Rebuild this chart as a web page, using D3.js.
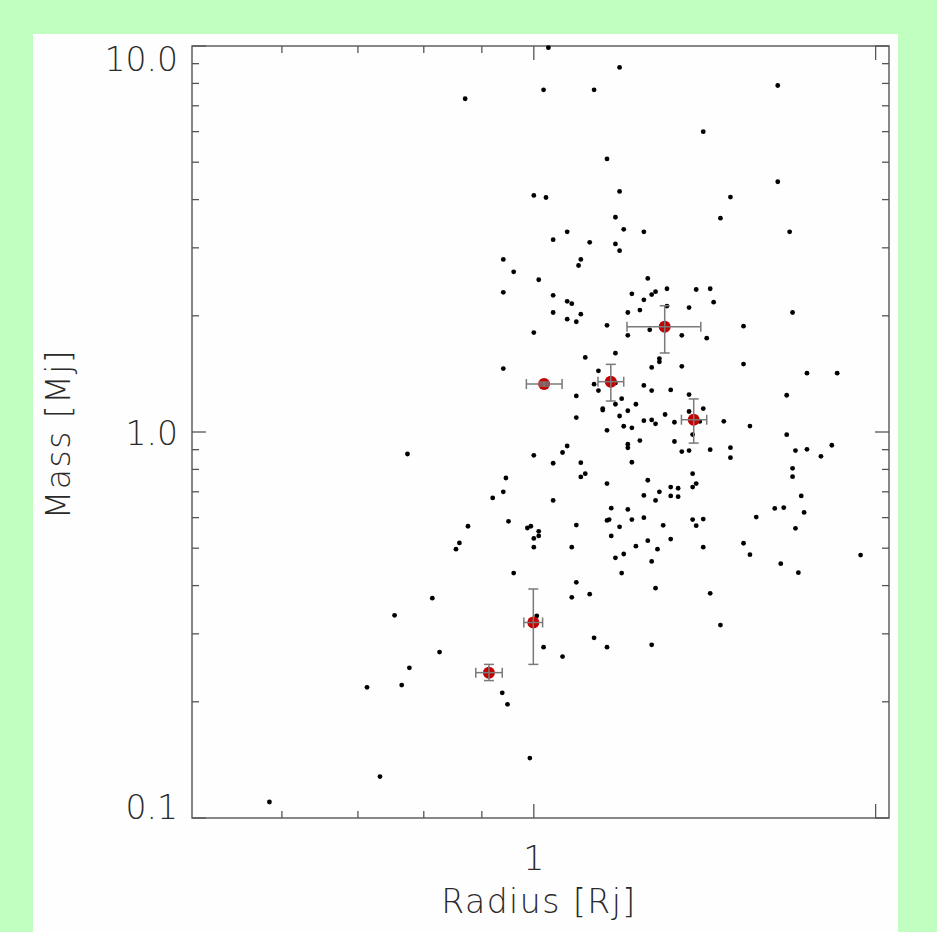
<!DOCTYPE html>
<html>
<head>
<meta charset="utf-8">
<script src="https://cdn.jsdelivr.net/npm/d3@7"></script>
<style>
  html, body { margin: 0; padding: 0; background: #c0ffc0; }
  svg { display: block; }
  text { font-family: "DejaVu Sans", sans-serif; font-weight: 200; fill: #2a2a2a; }
</style>
</head>
<body>
<svg id="chart" width="937" height="932"></svg>
<script>
// known planets (black dots)
const radiusRj = [1.03,1.19,1.02,1.13,0.87,1.41,1.16,1.19,1.00,1.025,1.18,1.20,1.25,1.07,1.04,1.12,1.18,1.19,0.94,1.10,
  1.095,0.96,1.01,1.26,0.94,1.04,1.07,1.08,1.22,1.25,1.27,1.28,1.31,1.39,1.43,1.44,1.37,1.31,1.24,1.21,
  1.04,1.10,1.07,1.09,1.16,1.00,1.21,1.265,1.35,1.42,1.46,1.18,1.11,1.29,1.29,1.27,1.35,0.94,1.14,1.13,
  1.14,1.18,1.25,1.27,1.32,1.37,1.09,1.195,1.18,1.23,1.15,1.15,1.21,1.305,1.41,1.19,1.09,1.25,1.27,1.28,
  1.33,1.37,1.40,1.20,1.22,1.16,1.38,1.21,1.21,1.24,1.33,1.35,1.37,1.43,1.07,1.06,1.00,1.04,1.10,1.22,
  1.11,1.10,0.945,1.16,1.26,1.38,1.39,1.38,0.94,0.92,1.04,1.25,1.29,1.32,1.34,1.32,1.34,1.28,1.17,1.21,
  0.875,0.95,0.987,0.994,1.01,1.01,1.00,1.00,1.09,1.16,1.165,1.19,1.22,1.25,1.30,1.38,1.41,1.39,1.17,1.26,
  1.32,1.285,1.23,1.08,1.41,0.86,0.854,1.20,1.18,1.27,0.96,1.195,1.09,1.28,1.12,1.08,1.43,0.814,0.754,1.006,
  0.826,0.777,0.765,0.938,0.948,0.992,1.02,1.06,1.13,1.16,1.27,0.732,1.69,1.53,1.53,1.74,1.85,1.67,1.47,1.55,
  1.67,1.49,1.49,1.70,1.74,1.79,1.83,1.69,1.69,1.72,1.63,1.66,1.73,1.57,1.70,1.53,1.55,1.65,1.71,1.94,
  1.64,1.64,1.49,1.68,0.774,0.713,0.585,1.46]
const massMj = [9.9,8.8,7.7,7.7,7.3,6.0,5.1,4.2,4.1,4.05,3.6,3.35,3.3,3.3,3.15,3.1,3.07,2.95,2.8,2.8,
  2.7,2.6,2.48,2.5,2.3,2.26,2.18,2.15,2.28,2.2,2.27,2.31,2.35,2.34,2.35,2.17,2.1,2.12,2.07,2.04,
  2.04,2.02,1.96,1.93,1.89,1.81,1.78,1.84,1.78,1.75,3.58,1.6,1.56,1.55,1.52,1.47,1.48,1.46,1.44,1.33,
  1.28,1.34,1.32,1.28,1.285,1.25,1.24,1.22,1.18,1.18,1.15,1.14,1.135,1.11,1.15,1.10,1.09,1.07,1.075,1.05,
  1.06,1.13,1.065,1.035,1.025,1.01,0.985,0.93,0.91,0.95,0.945,0.89,0.895,0.90,0.92,0.885,0.87,0.83,0.833,0.835,
  0.78,0.765,0.76,0.735,0.75,0.78,0.735,0.72,0.70,0.675,0.665,0.685,0.70,0.72,0.715,0.683,0.68,0.665,0.635,0.63,
  0.57,0.587,0.564,0.57,0.553,0.538,0.53,0.503,0.574,0.59,0.593,0.568,0.593,0.60,0.573,0.593,0.595,0.572,0.538,0.523,
  0.528,0.497,0.506,0.503,0.503,0.516,0.497,0.483,0.472,0.462,0.431,0.431,0.408,0.394,0.38,0.373,0.382,0.371,0.335,0.334,
  0.269,0.245,0.221,0.211,0.197,0.143,0.277,0.262,0.293,0.277,0.281,0.128,2.04,1.88,1.50,1.42,1.42,1.245,1.066,1.036,
  0.984,0.911,0.858,0.895,0.902,0.865,0.924,0.805,0.766,0.683,0.634,0.637,0.619,0.602,0.563,0.515,0.481,0.456,0.432,0.48,
  7.9,4.45,4.06,3.3,0.877,0.218,0.11,0.316]

// highlighted planets with error bars (red)
const hiR    = [1.304, 1.021, 1.169, 1.383, 0.999, 0.913]
const hiM    = [1.873, 1.331, 1.350, 1.076, 0.321, 0.238]
const hiRLo  = [1.208, 0.985, 1.139, 1.349, 0.980, 0.889]
const hiRHi  = [1.403, 1.059, 1.200, 1.420, 1.018, 0.938]
const hiMLo  = [1.602, 1.315, 1.203, 0.936, 0.250, 0.227]
const hiMHi  = [2.124, 1.347, 1.497, 1.218, 0.392, 0.250]

const yMajor = [0.1, 1, 10]
const yMinor = [0.2,0.3,0.4,0.5,0.6,0.7,0.8,0.9,2,3,4,5,6,7,8,9]
const yLabels = ['0.1', '1.0', '10.0']
const xMajor = [1, 2]
const xMinor = [0.6, 0.7, 0.8, 0.9]
const xLabels = ['1', '']

const svg = d3.select('#chart')
const pLeft = 192, pRight = 889, pTop = 46, pBottom = 818

// white panel
svg.append('rect')
  .attr('x', 33).attr('y', 34).attr('width', 865).attr('height', 898)
  .attr('fill', '#fefefe')

const x = d3.scaleLog().domain([0.5, 2.055]).range([pLeft, pRight])
const y = d3.scaleLog().domain([0.1, 10]).range([pBottom, pTop])

const axisColor = '#555'
const g = svg.append('g')

// ticks, inward on all four sides
function vTicks(vals, len) {
  vals.forEach(v => {
    g.append('line').attr('x1', x(v)).attr('x2', x(v)).attr('y1', pBottom).attr('y2', pBottom - len)
      .attr('stroke', axisColor).attr('stroke-width', 1.3)
    g.append('line').attr('x1', x(v)).attr('x2', x(v)).attr('y1', pTop).attr('y2', pTop + len)
      .attr('stroke', axisColor).attr('stroke-width', 1.3)
  })
}
function hTicks(vals, len) {
  vals.forEach(v => {
    g.append('line').attr('y1', y(v)).attr('y2', y(v)).attr('x1', pLeft).attr('x2', pLeft + len)
      .attr('stroke', axisColor).attr('stroke-width', 1.3)
    g.append('line').attr('y1', y(v)).attr('y2', y(v)).attr('x1', pRight).attr('x2', pRight - len)
      .attr('stroke', axisColor).attr('stroke-width', 1.3)
  })
}
vTicks(xMajor, 14)
vTicks(xMinor, 7)
hTicks(yMajor, 14)
hTicks(yMinor, 7)

// frame
g.append('rect')
  .attr('x', pLeft).attr('y', pTop).attr('width', pRight - pLeft).attr('height', pBottom - pTop)
  .attr('fill', 'none').attr('stroke', axisColor).attr('stroke-width', 1.4)

// tick labels
svg.selectAll('.ylab').data(yMajor).enter().append('text')
  .attr('class', 'ylab')
  .attr('x', 178)
  .attr('y', d => Math.min(Math.max(y(d) + 13, pTop + 25), pBottom + 1))
  .attr('text-anchor', 'end')
  .attr('font-size', 33)
  .text((d, i) => yLabels[i])

svg.selectAll('.xlab').data(xMajor).enter().append('text')
  .attr('class', 'xlab')
  .attr('x', d => x(d))
  .attr('y', 870)
  .attr('text-anchor', 'middle')
  .attr('font-size', 33)
  .text((d, i) => xLabels[i])

// axis titles
svg.append('text')
  .attr('x', 539).attr('y', 913)
  .attr('text-anchor', 'middle')
  .attr('font-size', 33)
  .attr('letter-spacing', 1.5)
  .text('Radius [Rj]')

svg.append('text')
  .attr('transform', 'translate(70,434) rotate(-90)')
  .attr('text-anchor', 'middle')
  .attr('font-size', 33)
  .attr('letter-spacing', 1.5)
  .text('Mass [Mj]')

// black dots
const pts = radiusRj.map((r, i) => ({r: r, m: massMj[i]}))
svg.append('g').selectAll('circle').data(pts).enter().append('circle')
  .attr('cx', d => x(d.r))
  .attr('cy', d => y(d.m))
  .attr('r', 2.4)
  .attr('fill', '#000')

// red planets + error bars
const hi = hiR.map((r, i) => ({r: r, m: hiM[i], r0: hiRLo[i], r1: hiRHi[i], m0: hiMLo[i], m1: hiMHi[i]}))
const hg = svg.append('g')
hg.selectAll('circle').data(hi).enter().append('circle')
  .attr('cx', d => x(d.r))
  .attr('cy', d => y(d.m))
  .attr('r', 6)
  .attr('fill', '#c40000')

const eb = hg.selectAll('g.eb').data(hi).enter().append('g').attr('class', 'eb')
  .attr('stroke', '#7a7a7a').attr('stroke-width', 1.5)
eb.append('line').attr('x1', d => x(d.r0)).attr('x2', d => x(d.r1)).attr('y1', d => y(d.m)).attr('y2', d => y(d.m))
eb.append('line').attr('x1', d => x(d.r0)).attr('x2', d => x(d.r0)).attr('y1', d => y(d.m) - 5).attr('y2', d => y(d.m) + 5)
eb.append('line').attr('x1', d => x(d.r1)).attr('x2', d => x(d.r1)).attr('y1', d => y(d.m) - 5).attr('y2', d => y(d.m) + 5)
eb.append('line').attr('x1', d => x(d.r)).attr('x2', d => x(d.r)).attr('y1', d => y(d.m0)).attr('y2', d => y(d.m1))
eb.append('line').attr('x1', d => x(d.r) - 5).attr('x2', d => x(d.r) + 5).attr('y1', d => y(d.m0)).attr('y2', d => y(d.m0))
eb.append('line').attr('x1', d => x(d.r) - 5).attr('x2', d => x(d.r) + 5).attr('y1', d => y(d.m1)).attr('y2', d => y(d.m1))
</script>
</body>
</html>
